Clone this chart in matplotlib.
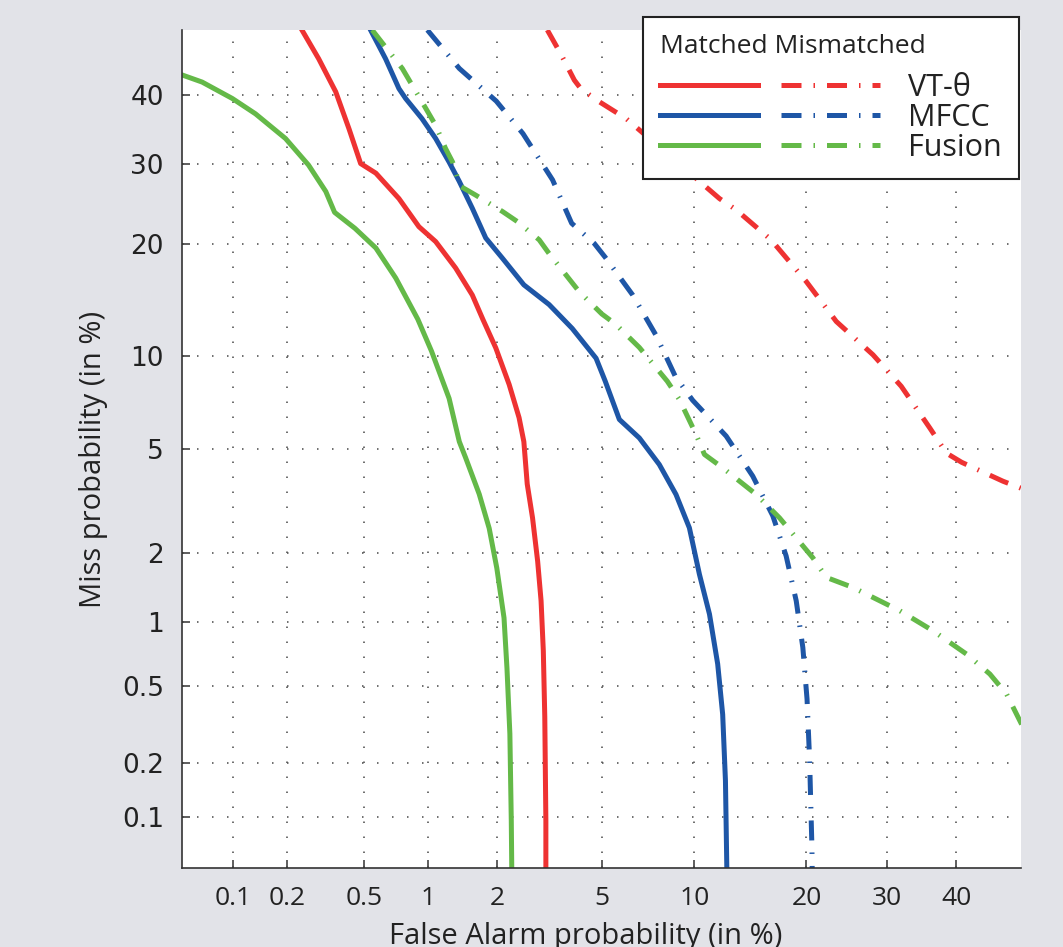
import matplotlib
matplotlib.use('Agg')
import matplotlib.pyplot as plt
import numpy as np
from statistics import NormalDist
from matplotlib.legend_handler import HandlerTuple

# ----------------------------------------------------------------------------
# DET curves (values in %)
# ----------------------------------------------------------------------------
vt_matched_fa = [0.24, 0.294, 0.36, 0.42, 0.48, 0.57, 0.735, 0.91, 1.085, 1.33, 1.57, 1.74,
                 1.97, 2.235, 2.45, 2.56, 2.64, 2.77, 2.90, 2.99, 3.05, 3.09, 3.12, 3.12]
vt_matched_miss = [50, 45.5, 40.4, 34.9, 30.0, 28.7, 25.4, 22.0, 20.3, 17.5, 14.9, 12.8,
                   10.6, 8.2, 6.4, 5.3, 3.73, 2.77, 1.85, 1.25, 0.74, 0.35, 0.095, 0.05]

mfcc_matched_fa = [0.537, 0.635, 0.735, 0.79, 0.94, 1.085, 1.245, 1.38, 1.57, 1.79, 2.10, 2.56,
                   3.21, 3.92, 4.78, 5.15, 5.76, 6.72, 7.80, 8.80, 9.67, 10.36, 11.09, 11.71,
                   12.10, 12.32, 12.43]
mfcc_matched_miss = [50, 45.5, 40.9, 39.4, 36.4, 33.5, 30.2, 27.6, 24.2, 20.7, 18.5, 15.85,
                     14.05, 12.06, 9.87, 8.39, 6.31, 5.46, 4.40, 3.41, 2.53, 1.63, 1.09, 0.64,
                     0.36, 0.16, 0.05]

fusion_matched_fa = [0.05, 0.066, 0.099, 0.134, 0.196, 0.26, 0.32, 0.355, 0.45, 0.57, 0.71, 0.90,
                     1.04, 1.245, 1.38, 1.47, 1.68, 1.85, 1.99, 2.13, 2.19, 2.25, 2.28, 2.29]
fusion_matched_miss = [43, 41.9, 39.4, 37.1, 33.5, 29.8, 26.3, 23.7, 21.8, 19.6, 16.5, 12.8,
                       10.35, 7.4, 5.3, 4.65, 3.42, 2.52, 1.73, 1.05, 0.61, 0.286, 0.095, 0.05]

vt_mism_fa = [3.16, 3.56, 3.99, 4.23, 4.91, 6.07, 10.19, 11.85, 13.2, 16.35, 19.98, 23.44,
              28.08, 31.93, 36.02, 38.5, 40.8, 47.2, 50.0]
vt_mism_miss = [50, 46.2, 42.2, 40.8, 38.9, 36.4, 27.9, 25.4, 24.0, 20.5, 16.17, 12.62,
                10.11, 8.09, 5.91, 4.83, 4.48, 3.82, 3.60]

mfcc_mism_fa = [0.995, 1.38, 1.98, 2.54, 3.03, 3.31, 3.90, 4.71, 5.15, 6.39, 7.62, 8.76, 9.89,
                12.38, 14.64, 16.52, 17.85, 18.90, 19.61, 20.07, 20.35, 20.61, 20.64]
mfcc_mism_miss = [50, 44.0, 39.0, 34.2, 29.9, 27.8, 22.4, 20.1, 18.6, 14.9, 11.52, 8.69, 7.30,
                  5.54, 3.99, 2.82, 1.945, 1.25, 0.766, 0.43, 0.21, 0.067, 0.05]

fusion_mism_fa = [0.547, 0.762, 0.94, 1.085, 1.20, 1.29, 1.39, 1.62, 2.10, 2.41, 2.94, 3.21,
                  4.16, 5.01, 5.58, 6.72, 8.27, 9.01, 10.13, 10.72, 12.10, 14.95, 17.18, 20.72,
                  22.26, 25.49, 31.71, 36.5, 41.54, 45.14, 47.74, 50.1]
fusion_mism_miss = [50, 44.0, 38.9, 35.4, 32.1, 30.2, 27.0, 25.85, 23.8, 22.6, 20.5, 19.0,
                    15.2, 13.24, 12.42, 10.63, 8.39, 7.35, 5.61, 4.78, 4.28, 3.41, 2.77, 1.91,
                    1.58, 1.43, 1.13, 0.916, 0.713, 0.572, 0.456, 0.32]

tick_vals = [0.1, 0.2, 0.5, 1, 2, 5, 10, 20, 30, 40]
tick_labels = ['0.1', '0.2', '0.5', '1', '2', '5', '10', '20', '30', '40']
series_names = ['VT-\u03b8', 'MFCC', 'Fusion']

RED = '#ee3232'
BLUE = '#1e56a6'
GREEN = '#64b948'

# ----------------------------------------------------------------------------
# probit (normal deviate) scale
# ----------------------------------------------------------------------------
_nd = NormalDist()
_ppf = np.vectorize(lambda p: _nd.inv_cdf(p), otypes=[float])
_cdf = np.vectorize(lambda z: _nd.cdf(z), otypes=[float])


def fwd(p):
    p = np.clip(np.asarray(p, dtype=float) / 100.0, 1e-9, 1 - 1e-9)
    return _ppf(p)


def inv(z):
    return _cdf(np.asarray(z, dtype=float)) * 100.0


fig = plt.figure(figsize=(10.63, 9.47), dpi=100, facecolor='#e2e3e8')
ax = fig.add_axes([182 / 1063, 79 / 947, 839 / 1063, 838 / 947])
ax.set_facecolor('white')
ax.set_xscale('function', functions=(fwd, inv))
ax.set_yscale('function', functions=(fwd, inv))

lw = 3.6
dd = (0, (4.0, 2.4, 0.3, 2.4))

s_vt, = ax.plot(vt_matched_fa, vt_matched_miss, color=RED, lw=lw)
s_mf, = ax.plot(mfcc_matched_fa, mfcc_matched_miss, color=BLUE, lw=lw)
s_fu, = ax.plot(fusion_matched_fa, fusion_matched_miss, color=GREEN, lw=lw)
d_vt, = ax.plot(vt_mism_fa, vt_mism_miss, color=RED, lw=lw, linestyle=dd)
d_mf, = ax.plot(mfcc_mism_fa, mfcc_mism_miss, color=BLUE, lw=lw, linestyle=dd)
d_fu, = ax.plot(fusion_mism_fa, fusion_mism_miss, color=GREEN, lw=lw, linestyle=dd)

ax.set_xlim(0.05, 50)
ax.set_ylim(0.05, 50)
ax.set_xticks(tick_vals, tick_labels)
ax.set_yticks(tick_vals, tick_labels)
ax.minorticks_off()

ax.grid(True, color='#555555', linestyle=(0, (0.9, 8.1)), linewidth=1.2)

for side in ['top', 'right']:
    ax.spines[side].set_visible(False)
for side in ['left', 'bottom']:
    ax.spines[side].set_color('#333333')
    ax.spines[side].set_linewidth(1.2)

ax.tick_params(direction='in', length=5.5, width=1.1, color='#333333',
               labelcolor='#222222', pad=13)
for lab in ax.get_xticklabels():
    lab.set_fontfamily('Open Sans')
    lab.set_fontsize(19)
for lab in ax.get_yticklabels():
    lab.set_fontfamily('DejaVu Sans')
    lab.set_fontsize(19)

ax.set_xlabel('False Alarm probability (in %)', fontsize=21, family='Open Sans',
              color='#222222', va='top')
ax.xaxis.set_label_coords(0.481, -0.0644)
ax.set_ylabel('Miss probability (in %)', fontsize=21, family='Open Sans',
              color='#222222', va='center')
ax.yaxis.set_label_coords(-0.1049, 0.487)

leg = ax.legend([(s_vt, d_vt), (s_mf, d_mf), (s_fu, d_fu)], series_names,
                handler_map={tuple: HandlerTuple(ndivide=None, pad=0.75)},
                loc='upper right', bbox_to_anchor=(1019 / 1063, 1 - 17 / 947),
                bbox_transform=fig.transFigure, borderaxespad=0,
                prop={'family': 'Open Sans', 'size': 22},
                title='Matched Mismatched', title_fontproperties={'family': 'Open Sans', 'size': 19},
                alignment='left', handlelength=7.2, handletextpad=0.94,
                labelspacing=0.0, borderpad=0.55, fancybox=False, framealpha=1,
                edgecolor='#222222')
leg.get_frame().set_linewidth(1.5)
# a bit more room between the header and the rows
leg._legend_box.sep = 10
for t in leg.get_texts():
    t.set_color('#222222')
leg.get_title().set_color('#222222')

fig.savefig('out.png', dpi=100, facecolor=fig.get_facecolor())
